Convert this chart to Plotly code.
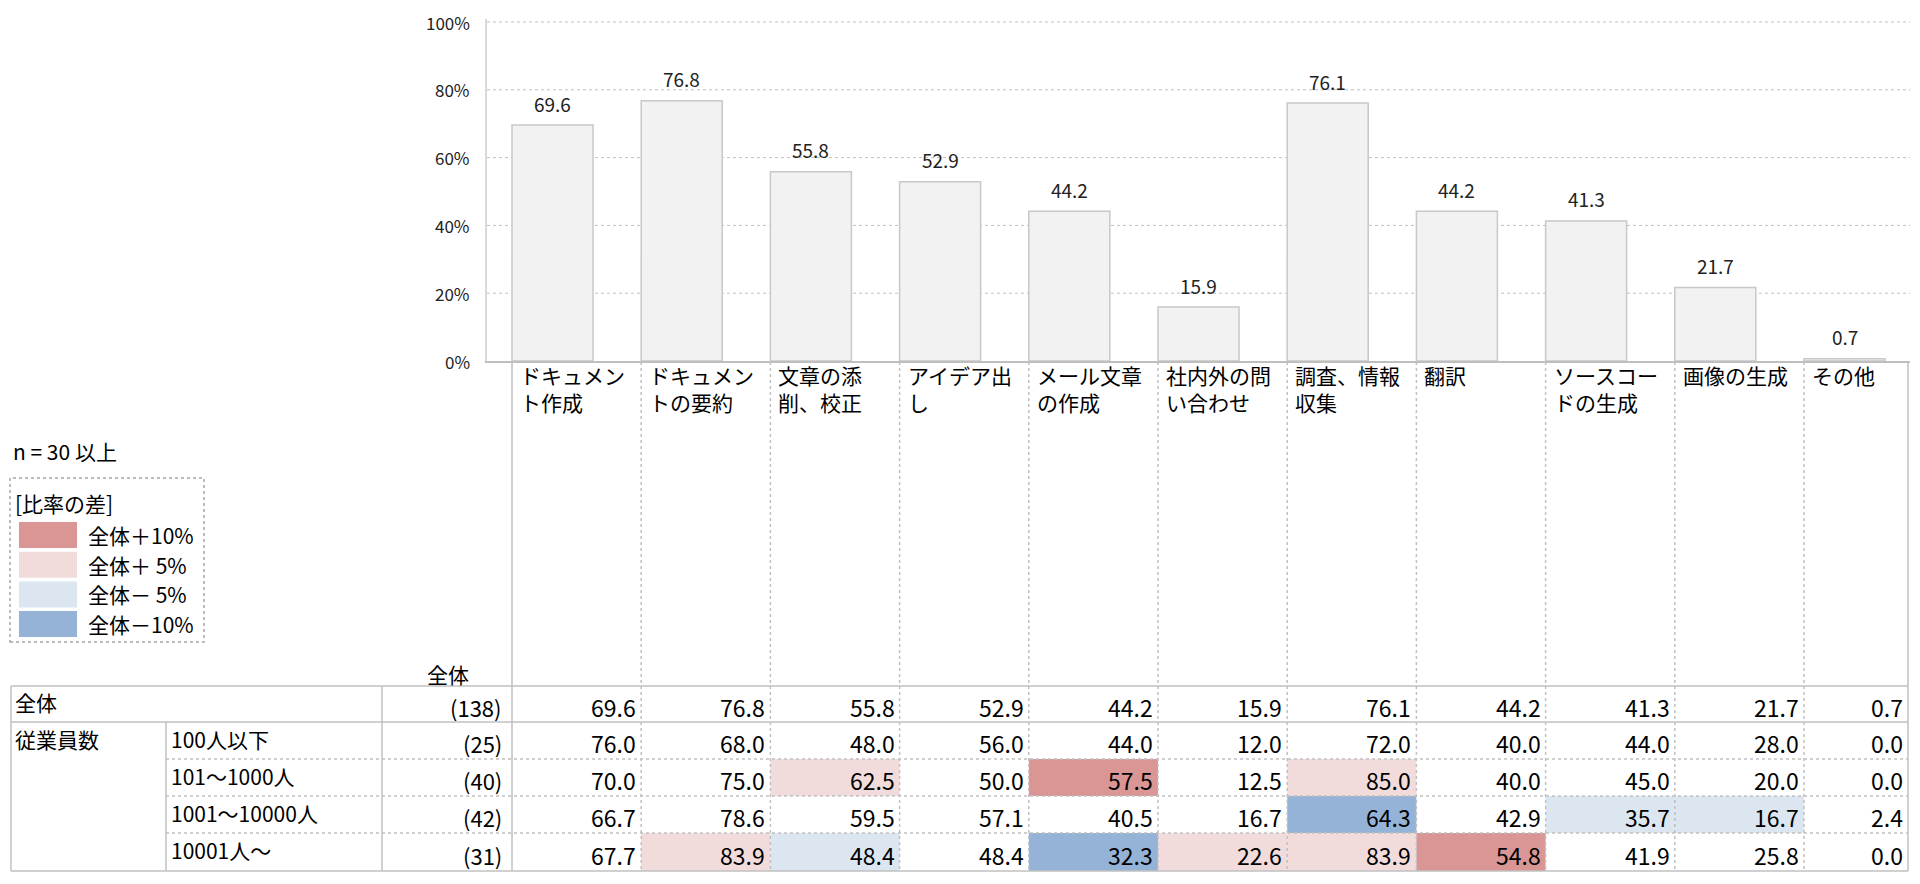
import plotly.graph_objects as go

# the page body keeps its 8px margin, so the figure is sized to fill the rest
PAGE_W, PAGE_H, PAD = 1920, 884, 8
W, H = PAGE_W - 2 * PAD, PAGE_H - 2 * PAD
FONT = "Noto Sans CJK JP"

# ---- data ----
CATEGORIES = [
    "ドキュメン<br>ト作成", "ドキュメン<br>トの要約", "文章の添<br>削、校正", "アイデア出<br>し",
    "メール文章<br>の作成", "社内外の問<br>い合わせ", "調査、情報<br>収集", "翻訳",
    "ソースコー<br>ドの生成", "画像の生成", "その他",
]
TOTAL = [69.6, 76.8, 55.8, 52.9, 44.2, 15.9, 76.1, 44.2, 41.3, 21.7, 0.7]
TOTAL_N = 138

GROUP_LABEL = "従業員数"
ROW_LABELS = ["100人以下", "101～1000人", "1001～10000人", "10001人～"]
ROW_N = [25, 40, 42, 31]
ROW_100 = [76.0, 68.0, 48.0, 56.0, 44.0, 12.0, 72.0, 40.0, 44.0, 28.0, 0.0]
ROW_1000 = [70.0, 75.0, 62.5, 50.0, 57.5, 12.5, 85.0, 40.0, 45.0, 20.0, 0.0]
ROW_10000 = [66.7, 78.6, 59.5, 57.1, 40.5, 16.7, 64.3, 42.9, 35.7, 16.7, 2.4]
ROW_OVER = [67.7, 83.9, 48.4, 48.4, 32.3, 22.6, 83.9, 54.8, 41.9, 25.8, 0.0]
ROWS = [ROW_100, ROW_1000, ROW_10000, ROW_OVER]

Y_TICKS = [0, 20, 40, 60, 80, 100]
LEGEND_LABELS = ["全体＋10%", "全体＋ 5%", "全体－ 5%", "全体－10%"]
LEGEND_COLORS = ["#d99694", "#f2dcdb", "#dce6f1", "#95b3d7"]
MIN_N = 30

# ---- geometry (page pixels) ----
COL0 = 512
PITCH = 129.2
TABLE_RIGHT = 1908
ROW_Y = [686, 722, 759, 796, 833, 871]
X_LEFT, X_SUB, X_N = 11, 166, 382
PLOT_L, PLOT_R, PLOT_B = 487, 1910, 361
Y100 = 22          # pixel row of the 100% line
YMAX = 101         # a little headroom above 100%
PLOT_T = PLOT_B - (PLOT_B - Y100) * YMAX / 100
BAR_W = 0.627
GRID = "#c0c0c0"
NUM = 23
TXT = 21


def fx(p):
    return (p - PAD) / W


def fy(p):
    return 1 - (p - PAD) / H


def col_left(i):
    return COL0 + PITCH * i


def col_right(i):
    return TABLE_RIGHT if i == len(TOTAL) - 1 else COL0 + PITCH * (i + 1)


def cell_color(v, base, n):
    if n < MIN_N:
        return None
    d = round(v - base, 1)
    if d >= 10:
        return LEGEND_COLORS[0]
    if d >= 5:
        return LEGEND_COLORS[1]
    if d <= -10:
        return LEGEND_COLORS[3]
    if d <= -5:
        return LEGEND_COLORS[2]
    return None


fig = go.Figure()
xs = [i + BAR_W / 2 for i in range(len(TOTAL))]
fig.add_trace(go.Bar(
    x=xs, y=TOTAL, width=BAR_W,
    marker=dict(color="#f2f2f2", line=dict(color="#c8c8c8", width=1.5)),
    hoverinfo="skip",
))

shapes = []
ann = []

# y grid and tick labels on the y axis scale
for t in Y_TICKS:
    if t > 0:
        shapes.append(dict(type="line", xref="paper", yref="y", layer="below",
                           x0=fx(PLOT_L), x1=fx(PLOT_R), y0=t, y1=t,
                           line=dict(color=GRID, width=1, dash="dot")))
    ann.append(dict(x=fx(472), y=t, xref="paper", yref="y", text=f"{t}%", showarrow=False,
                    xanchor="right", yanchor="middle", font=dict(size=17, color="#222")))

# bar value labels
for x, v in zip(xs, TOTAL):
    ann.append(dict(x=x, y=v, xref="x", yref="y", text=f"{v:.1f}", showarrow=False,
                    yshift=22, font=dict(size=19, color="#222")))

# category labels
for i, c in enumerate(CATEGORIES):
    ann.append(dict(x=fx(col_left(i) + 6), y=fy(358), xref="paper", yref="paper", text=c,
                    showarrow=False, xanchor="left", yanchor="top", align="left",
                    font=dict(size=TXT, color="#000")))

# cell fills
for r, row in enumerate(ROWS):
    for i, v in enumerate(row):
        col = cell_color(v, TOTAL[i], ROW_N[r])
        if col:
            shapes.append(dict(type="rect", xref="paper", yref="paper", layer="below",
                               x0=fx(col_left(i)), x1=fx(col_right(i)),
                               y0=fy(ROW_Y[r + 1]), y1=fy(ROW_Y[r + 2]),
                               fillcolor=col, line=dict(width=0)))


def hline(x0, x1, y, dash="solid"):
    shapes.append(dict(type="line", xref="paper", yref="paper", x0=fx(x0), x1=fx(x1),
                       y0=fy(y), y1=fy(y), line=dict(color=GRID, width=1.5, dash=dash)))


def vline(x, y0, y1, dash="solid"):
    shapes.append(dict(type="line", xref="paper", yref="paper", x0=fx(x), x1=fx(x),
                       y0=fy(y0), y1=fy(y1), line=dict(color=GRID, width=1.5, dash=dash)))


# table lines
hline(X_LEFT, TABLE_RIGHT, ROW_Y[0])
hline(X_LEFT, TABLE_RIGHT, ROW_Y[1])
for y in ROW_Y[2:5]:
    hline(X_SUB, TABLE_RIGHT, y, "dot")
hline(X_LEFT, TABLE_RIGHT, ROW_Y[5])
vline(X_LEFT, ROW_Y[0], ROW_Y[5])
vline(X_SUB, ROW_Y[1], ROW_Y[5])
vline(X_N, ROW_Y[0], ROW_Y[5])
vline(COL0, PLOT_B, ROW_Y[5])
for i in range(1, len(TOTAL)):
    vline(col_left(i), PLOT_B + 1, ROW_Y[5], "dot")
vline(TABLE_RIGHT, PLOT_B, ROW_Y[5])


# table texts
def text(x, y, s, anchor="left", size=TXT):
    ann.append(dict(x=fx(x), y=fy(y), xref="paper", yref="paper", text=s, showarrow=False,
                    xanchor=anchor, yanchor="middle", font=dict(size=size, color="#000")))


text(471, 674, "全体", "right")
text(X_LEFT + 2, ROW_Y[0] + 16, "全体")
text(X_N + 122, ROW_Y[0] + 21, f"({TOTAL_N})", "right", NUM - 1)
for i, v in enumerate(TOTAL):
    text(col_right(i) - 3, ROW_Y[0] + 21, f"{v:.1f}", "right", NUM)
text(X_LEFT + 2, ROW_Y[1] + 17, GROUP_LABEL)
for r, row in enumerate(ROWS):
    yc = (ROW_Y[r + 1] + ROW_Y[r + 2]) / 2
    text(X_SUB + 3, yc - 2, ROW_LABELS[r])
    text(X_N + 122, yc + 2.5, f"({ROW_N[r]})", "right", NUM - 1)
    for i, v in enumerate(row):
        text(col_right(i) - 3, yc + 2.5, f"{v:.1f}", "right", NUM)

# n note and legend
text(X_LEFT, 451, "n = 30 以上")
shapes.append(dict(type="rect", xref="paper", yref="paper", x0=fx(10), x1=fx(204),
                   y0=fy(642), y1=fy(478), line=dict(color="#a6a6a6", width=1.5, dash="dot")))
text(13, 503, "[比率の差]")
for k, (lab, col) in enumerate(zip(LEGEND_LABELS, LEGEND_COLORS)):
    top = 522 + 29.7 * k
    shapes.append(dict(type="rect", xref="paper", yref="paper", x0=fx(19), x1=fx(77),
                       y0=fy(top + 26), y1=fy(top), fillcolor=col, line=dict(width=0)))
    text(86, top + 13, lab)

fig.update_layout(
    width=W, height=H,
    margin=dict(l=0, r=0, t=0, b=0),
    paper_bgcolor="white", plot_bgcolor="white",
    showlegend=False,
    font=dict(family=FONT, color="#000"),
    xaxis=dict(domain=[fx(PLOT_L), fx(PLOT_R)],
               range=[(PLOT_L - COL0) / PITCH, (PLOT_R - COL0) / PITCH],
               showgrid=False, zeroline=False, showticklabels=False, ticks="",
               showline=True, linecolor="#bfbfbf", linewidth=2, fixedrange=True,
               automargin=False),
    yaxis=dict(domain=[fy(PLOT_B), fy(PLOT_T)], range=[0, YMAX],
               showgrid=False, showticklabels=False, ticks="",
               zeroline=False, showline=True, linecolor="#d9d9d9", linewidth=1.5,
               fixedrange=True, automargin=False),
    shapes=shapes,
    annotations=ann,
)

fig.write_html("out.html")
